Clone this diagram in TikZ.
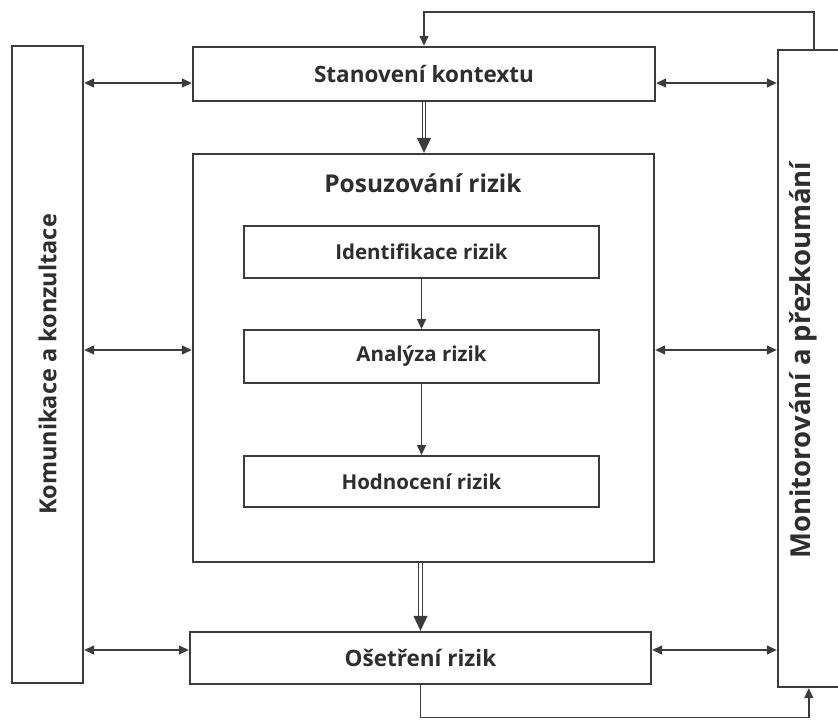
\documentclass[tikz,border=0pt]{standalone}
\usepackage{fontspec}
\setmainfont{Open Sans}
\usepackage{tikz}
\usetikzlibrary{arrows.meta, positioning, calc}
\definecolor{linegray}{HTML}{3C3C3C}
\definecolor{textgray}{HTML}{2E2E2E}

\tikzset{
    box/.style={draw=linegray, line width=2.4pt, fill=white, inner sep=0pt, text=textgray, font=\bfseries\fontsize{22.5}{26}\selectfont},
    innerbox/.style={box, line width=1.9pt, minimum width=355, font=\bfseries\fontsize{20.5}{24}\selectfont},
    sidetext/.style={text=textgray, font=\bfseries\fontsize{23.5}{28}\selectfont},
    biarr/.style={draw=linegray, line width=1.4pt, {Triangle[length=10pt,width=9pt]}-{Triangle[length=10pt,width=9pt]}},
    arr/.style={draw=linegray, line width=1.4pt, -{Triangle[length=10pt,width=9pt]}},
    dbl/.style={draw=linegray, line width=1pt, double=white, double distance=2.2pt},
    dbltip/.style={draw=linegray, line width=1pt, -{Triangle[length=15pt,width=14pt]}}
}

\begin{document}
\begin{tikzpicture}[x=1pt, y=-1pt]
    \useasboundingbox (0,0) rectangle (838,720);
    \clip (0,0) rectangle (838,720);
    \fill[white] (0,0) rectangle (838,720);

    % side boxes
    \node[box, sidetext, minimum width=71, minimum height=637] (kom) at (47.5,364.5) {\rotatebox{90}{Komunikace a konzultace}};
    \node[box, minimum width=102, minimum height=637] (mon) at (829,368.5) {};
    \node[sidetext, font=\bfseries\fontsize{27.5}{32}\selectfont] (monlbl) at (803,360) {\rotatebox{90}{Monitorování a přezkoumání}};

    % main column
    \node[box, minimum width=462, minimum height=54] (ctx) at (424,74) {Stanovení kontextu};
    \node[box, minimum width=461, minimum height=408] (pos) at (423.5,358) {};
    \node[text=textgray, font=\bfseries\fontsize{24.5}{28}\selectfont] (postitle) at (423,183) {Posuzování rizik};
    \node[innerbox, minimum height=52] (iden) at (421.5,252) {Identifikace rizik};
    \node[innerbox, minimum height=53] (ana) at (421.5,356.5) {Analýza rizik};
    \node[innerbox, minimum height=51] (hod) at (421.5,481.5) {Hodnocení rizik};
    \node[box, minimum width=461, minimum height=52] (ose) at (420.5,658) {Ošetření rizik};

    % flow inside
    \draw[arr] (iden) -- (ana);
    \draw[arr] (ana) -- (hod);

    % double arrows
    \draw[dbl] (ctx.south) -- ($(ctx.south |- pos.north)+(0,-14)$);
    \draw[dbltip] ($(ctx.south |- pos.north)+(0,-15)$) -- (ctx.south |- pos.north);
    \draw[dbl] (ose.north |- pos.south) -- ($(ose.north)+(0,-14)$);
    \draw[dbltip] ($(ose.north)+(0,-15)$) -- (ose.north);

    % links to side boxes
    \draw[biarr, transform canvas={yshift=-9pt}] (kom.east |- ctx.west) -- (ctx.west);
    \draw[biarr, transform canvas={yshift=-9pt}] (ctx.east) -- (mon.west |- ctx.east);
    \draw[biarr, transform canvas={yshift=8pt}] (kom.east |- pos.west) -- (pos.west);
    \draw[biarr, transform canvas={yshift=8pt}] (pos.east) -- (mon.west |- pos.east);
    \draw[biarr, transform canvas={yshift=8pt}] (kom.east |- ose.west) -- (ose.west);
    \draw[biarr, transform canvas={yshift=8pt}] (ose.east) -- (mon.west |- ose.east);

    % feedback loops
    \draw[arr] ([xshift=37pt]mon.north west) -- ++(0,-37) -| (ctx.north);
    \draw[arr] (ose.south) -- ++(0,32) -| ([xshift=32pt]mon.south west);
\end{tikzpicture}
\end{document}
